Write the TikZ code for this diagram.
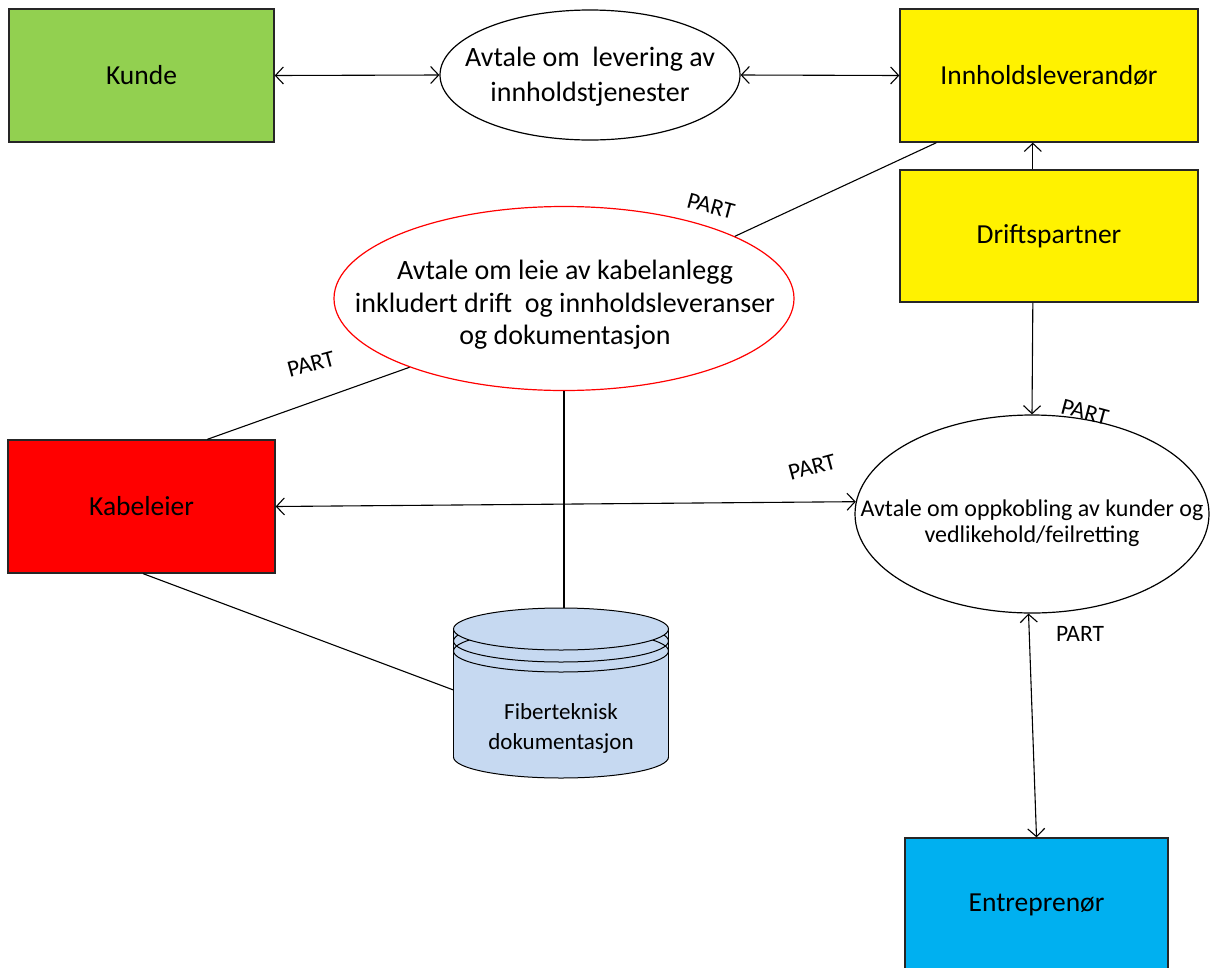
\documentclass[tikz,border=0pt]{standalone}
\usepackage{fontspec}
\setmainfont{Carlito}
\usetikzlibrary{arrows.meta,shapes.geometric,calc}
\definecolor{kundegreen}{HTML}{92D050}
\definecolor{cyan}{HTML}{00B0F0}
\definecolor{dbblue}{HTML}{C6D9F1}
\begin{document}
\begin{tikzpicture}[x=1pt,y=-1pt,
  party/.style={draw=black!85,line width=1.3pt,inner sep=0pt,
    font=\fontsize{27.5}{32}\selectfont},
  agreement/.style={ellipse,draw=black,line width=1.2pt,inner sep=0pt},
  txt/.style={align=center,inner sep=0pt},
  conn/.style={line width=1.1pt},
  tip/.style={arrows={Straight Barb[length=8pt,width=17pt]-Straight Barb[length=8pt,width=17pt]}},
  onetip/.style={arrows={-Straight Barb[length=8pt,width=17pt]}},
  partlbl/.style={inner sep=0pt,font=\fontsize{23.5}{28}\selectfont}]
\useasboundingbox (0,0) rectangle (1210,967);

% parties
\node[party,fill=kundegreen,minimum width=265pt,minimum height=133pt] (kunde) at (141.5,75.5) {Kunde};
\node[party,fill=yellow,minimum width=298pt,minimum height=133pt] (innhold) at (1049,75.5) {Innholdsleverandør};
\node[party,fill=yellow,minimum width=298pt,minimum height=132pt] (drift) at (1049,236) {Driftspartner};
\node[party,fill=red,minimum width=267pt,minimum height=133pt] (kabel) at (141.5,506.5) {Kabeleier};
\node[party,fill=cyan,minimum width=263pt,minimum height=134pt] (entr) at (1036.5,905) {Entreprenør};

% agreements
\node[agreement,minimum width=300pt,minimum height=130pt] (levering) at (590,75) {};
\node[txt,font=\fontsize{28}{35}\selectfont] (leveringtxt) at (590,77) {Avtale om\ \ levering av\\innholdstjenester};
\node[agreement,draw=red,minimum width=460pt,minimum height=184pt] (leie) at (564,298.5) {};
\node[txt,font=\fontsize{28}{32.5}\selectfont] (leietxt) at (565,305) {Avtale om leie av kabelanlegg\\inkludert drift\ \ og innholdsleveranser\\og dokumentasjon};
\node[agreement,minimum width=354pt,minimum height=198pt] (oppkobling) at (1032,514) {};
\node[txt,font=\fontsize{24}{26}\selectfont] (oppkoblingtxt) at (1032,523) {Avtale om oppkobling av kunder og\\vedlikehold/feilretting};

% documentation store (cylinder)
\begin{scope}[line width=1pt]
  \fill[dbblue] (453.5,629) rectangle (668.5,757);
  \fill[dbblue] (561,757) ellipse [x radius=107.5, y radius=21];
  \begin{scope}
    \clip (440,757) rectangle (680,800);
    \draw (561,757) ellipse [x radius=107.5, y radius=21];
  \end{scope}
  \begin{scope}
    \clip (440,629) rectangle (680,700);
    \draw (561,641) ellipse [x radius=107.5, y radius=21];
    \draw (561,651) ellipse [x radius=107.5, y radius=21];
  \end{scope}
  \draw (453.5,629) -- (453.5,757) (668.5,629) -- (668.5,757);
  \filldraw[fill=dbblue] (561,629) ellipse [x radius=107.5, y radius=21];
\end{scope}
\node[txt,font=\fontsize{23}{30}\selectfont] (doc) at (561,728) {Fiberteknisk\\dokumentasjon};
\coordinate (docTop) at (562,608);
\coordinate (docLeft) at (453.5,690);

% connectors
\draw[conn,tip] (kunde.east) -- (levering.west);
\draw[conn,tip] (levering.east) -- (innhold.west);
\draw[conn,onetip] ($(drift.north west)!0.446!(drift.north east)$) -- ($(innhold.south west)!0.446!(innhold.south east)$);
\draw[conn] ($(innhold.south west)!0.124!(innhold.south east)$) -- (leie.20);
\draw[conn] (leie.204.5) -- ($(kabel.north west)!0.745!(kabel.north east)$);
\draw[conn] (leie.south) -- (leie.south |- docTop);
\draw[conn] ($(kabel.south west)!0.506!(kabel.south east)$) -- (docLeft);
\draw[conn,tip] (kabel.east) -- (oppkobling.176.5);
\draw[conn,onetip] ($(drift.south west)!0.446!(drift.south east)$) -- (oppkobling.north);
\draw[conn,tip] (oppkobling.268) -- (entr.north);

% role labels
\node[partlbl,rotate=-15] (p1) at (711,206) {PART};
\node[partlbl,rotate=15] (p2) at (311,364) {PART};
\node[partlbl,rotate=15] (p3) at (812,467) {PART};
\node[partlbl,rotate=-15] (p4) at (1085,412) {PART};
\node[partlbl] (p5) at (1080,634) {PART};
\end{tikzpicture}
\end{document}
